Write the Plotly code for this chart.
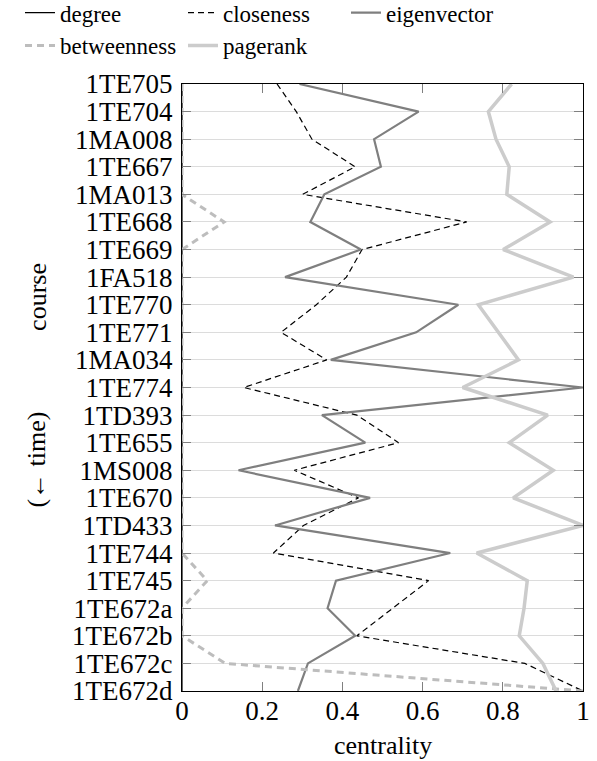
import plotly.graph_objects as go

courses = ["1TE705", "1TE704", "1MA008", "1TE667", "1MA013", "1TE668", "1TE669",
           "1FA518", "1TE770", "1TE771", "1MA034", "1TE774", "1TD393", "1TE655",
           "1MS008", "1TE670", "1TD433", "1TE744", "1TE745", "1TE672a", "1TE672b",
           "1TE672c", "1TE672d"]

degree = [0.0] * 23
closeness = [0.237, 0.285, 0.324, 0.432, 0.301, 0.71, 0.449, 0.41, 0.335, 0.247,
             0.361, 0.154, 0.436, 0.54, 0.28, 0.44, 0.303, 0.228, 0.615, 0.526,
             0.436, 0.855, 1.0]
eigenvector = [0.293, 0.59, 0.479, 0.496, 0.355, 0.32, 0.446, 0.257, 0.689, 0.584,
               0.371, 1.0, 0.349, 0.457, 0.141, 0.469, 0.232, 0.669, 0.384, 0.363,
               0.432, 0.314, 0.289]
betweenness = [0, 0, 0, 0, 0, 0.105, 0, 0, 0, 0, 0, 0, 0, 0, 0, 0, 0, 0,
               0.063, 0, 0, 0.108, 1.0]
pagerank = [0.822, 0.764, 0.783, 0.816, 0.81, 0.918, 0.801, 0.976, 0.739, 0.788,
            0.839, 0.70, 0.912, 0.816, 0.926, 0.826, 1.0, 0.735, 0.861, 0.853,
            0.841, 0.90, 0.933]

series = [
    ("degree", degree, dict(color="black", width=1.2)),
    ("closeness", closeness, dict(color="black", width=1.2, dash="6px,4px")),
    ("eigenvector", eigenvector, dict(color="#7f7f7f", width=2.2)),
    ("betweenness", betweenness, dict(color="#bdbdbd", width=3, dash="7px,5px")),
    ("pagerank", pagerank, dict(color="#cccccc", width=3.5)),
]

FONT = "Liberation Serif"

fig = go.Figure()
for name, vals, line in series:
    fig.add_trace(go.Scatter(x=vals, y=courses, mode="lines", name=name, line=line))

fig.update_layout(
    width=597, height=761,
    margin=dict(l=182, r=14, t=84, b=70, autoexpand=False),
    paper_bgcolor="white", plot_bgcolor="white",
    font=dict(family=FONT, size=26, color="black"),
    showlegend=True,
    legend=dict(orientation="h", x=-0.404, xanchor="left", y=1.153, yanchor="top",
                font=dict(family=FONT, size=23), entrywidth=118, entrywidthmode="pixels",
                bgcolor="rgba(0,0,0,0)", itemclick=False, tracegroupgap=0),
    xaxis=dict(range=[0, 1], tickvals=[0, 0.2, 0.4, 0.6, 0.8, 1],
               ticktext=["0", "0.2", "0.4", "0.6", "0.8", "1"],
               ticks="inside", ticklen=9, tickcolor="#808080", tickwidth=1,
               showline=True, linecolor="black", linewidth=1, mirror="ticks",
               showgrid=False, zeroline=False, automargin=False,
               ticklabelstandoff=-4,
               tickfont=dict(family=FONT, size=27)),
    yaxis=dict(type="category", categoryorder="array", categoryarray=courses,
               tickmode="array", tickvals=courses, ticktext=courses,
               range=[22, 0], ticks="inside", ticklen=9, tickcolor="#808080", tickwidth=1,
               showline=True, linecolor="black", linewidth=1, mirror="ticks",
               showgrid=True, gridcolor="#dcdcdc", gridwidth=1, zeroline=False,
               automargin=False, ticklabelstandoff=3,
               tickfont=dict(family=FONT, size=27)),
    annotations=[
        dict(text="centrality", xref="paper", yref="paper", x=0.5, y=-0.089,
             xanchor="center", yanchor="middle", showarrow=False,
             font=dict(family=FONT, size=26)),
        dict(text="course", xref="paper", yref="paper", x=-0.362, y=0.649,
             xanchor="center", yanchor="middle", textangle=-90, showarrow=False,
             font=dict(family=FONT, size=26)),
        dict(text="(\u2190 time)", xref="paper", yref="paper", x=-0.362, y=0.381,
             xanchor="center", yanchor="middle", textangle=-90, showarrow=False,
             font=dict(family=FONT, size=26)),
    ],
)

fig.write_html("out.html", config={"displayModeBar": False},
               post_script="document.body.style.margin='0px';document.body.style.overflow='hidden';")
